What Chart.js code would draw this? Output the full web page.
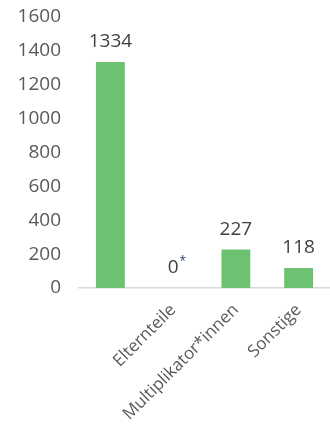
<!DOCTYPE html>
<html>
<head>
    <script src="https://cdn.jsdelivr.net/npm/chart.js@4/dist/chart.umd.min.js"></script>
    <style>
        html, body { margin: 0; padding: 0; background: #fff; overflow: hidden; }
    </style>
</head>

<body>
<div style="width: 330px; height: 438px;">
    <canvas id="myChart"></canvas>
</div>

<script>
    const categories = ["", "Elternteile", "Multiplikator*innen", "Sonstige"];
    const counts = [1334, 0, 227, 118];
    const valueNotes = ["", "*", "", ""];
    const yTicks = [0, 200, 400, 600, 800, 1000, 1200, 1400, 1600];

    const barGreen = "#6cc270";
    const textGray = "#404040";

    // value labels above the bars, with an optional superscript note
    const valueLabels = {
        id: "valueLabels",
        afterDatasetsDraw(chart) {
            const ctx = chart.ctx;
            const meta = chart.getDatasetMeta(0);
            ctx.save();
            ctx.textBaseline = "alphabetic";
            meta.data.forEach((bar, i) => {
                const text = String(counts[i]);
                ctx.font = "19px 'Open Sans'";
                ctx.fillStyle = textGray;
                const w = ctx.measureText(text).width;
                const y = bar.y - 15;
                ctx.textAlign = "center";
                ctx.fillText(text, bar.x, y);
                if (valueNotes[i]) {
                    ctx.font = "12px 'Open Sans'";
                    ctx.fillStyle = "#1f3a5a";
                    ctx.textAlign = "left";
                    ctx.fillText(valueNotes[i], bar.x + w / 2 + 1, y - 8);
                }
            });
            ctx.restore();
        }
    };

    new Chart("myChart", {
        type: "bar",
        data: {
            labels: categories,
            datasets: [{
                data: counts,
                backgroundColor: barGreen,
                categoryPercentage: 1,
                barPercentage: 0.46
            }]
        },
        options: {
            responsive: true,
            maintainAspectRatio: false,
            animation: false,
            layout: { padding: { left: 14, top: 0, right: 0, bottom: 0 } },
            plugins: {
                legend: { display: false },
                tooltip: { enabled: false }
            },
            scales: {
                y: {
                    min: 0,
                    max: 1600,
                    afterBuildTicks: (scale) => {
                        scale.ticks = yTicks.map(v => ({ value: v }));
                    },
                    afterFit: (scale) => {
                        scale.width = 65;
                        scale.paddingTop = 17;
                        scale.paddingBottom = 0;
                    },
                    grid: { display: false, drawTicks: false },
                    border: { display: false },
                    ticks: {
                        color: "#595959",
                        padding: 18,
                        font: { family: "Open Sans", size: 19 },
                        callback: (v) => String(v)
                    }
                },
                x: {
                    afterFit: (scale) => { scale.height = 150; },
                    grid: { display: false },
                    border: { color: "#d9d9d9", width: 1.5 },
                    ticks: {
                        color: "#595959",
                        minRotation: 45,
                        maxRotation: 45,
                        padding: 4,
                        font: { family: "Open Sans", size: 17 }
                    }
                }
            }
        },
        plugins: [valueLabels]
    });
</script>
</body>
</html>
